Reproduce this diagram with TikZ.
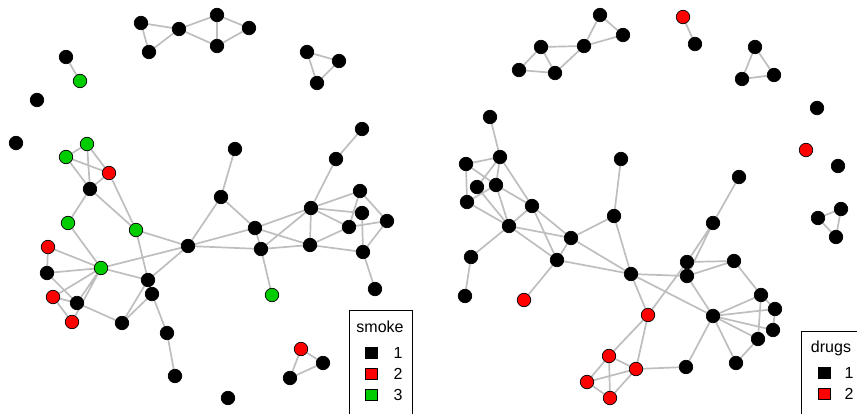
\documentclass[tikz,border=0pt]{standalone}
\usepackage{fontspec}
\setmainfont{Liberation Sans}
\usetikzlibrary{backgrounds}
\definecolor{verde}{RGB}{0,205,0}
\definecolor{gris}{RGB}{190,190,190}
\begin{document}
\begin{tikzpicture}[x=1pt, y=-1pt,
    nb/.style={circle, fill=black, draw=black, line width=0.7pt, minimum size=13.5pt, inner sep=0pt},
    nr/.style={nb, fill=red},
    ng/.style={nb, fill=verde},
    edge/.style={gris, line width=1.7pt},
    caja/.style={rectangle, draw=black, line width=0.7pt, minimum width=12pt, minimum height=11pt, inner sep=0pt},
    rotulo/.style={font=\fontsize{16}{19}\selectfont, inner sep=0pt}]
        \clip (0,0) rectangle (857,414);

        % Red smoke: grupos sueltos
        \node[nb] (s1) at (141,23) {};
        \node[nb] (s2) at (149,52) {};
        \node[nb] (s3) at (179,29) {};
        \node[nb] (s4) at (217,15) {};
        \node[nb] (s5) at (217,46) {};
        \node[nb] (s6) at (249,28) {};
        \node[nb] (s7) at (307,52) {};
        \node[nb] (s8) at (339,61) {};
        \node[nb] (s9) at (317,83) {};
        \node[nb] (s10) at (66,57) {};
        \node[ng] (s11) at (80,81) {};
        \node[nb] (s12) at (37,100) {};
        \node[nb] (s13) at (16,143) {};
        \node[nr] (s47) at (301,349) {};
        \node[nb] (s48) at (323,363) {};
        \node[nb] (s49) at (290,378) {};
        \node[nb] (s50) at (228,398) {};

        % Red smoke: componente grande
        \node[ng] (s14) at (87,144) {};
        \node[ng] (s15) at (66,157) {};
        \node[nr] (s16) at (109,173) {};
        \node[nb] (s17) at (90,189) {};
        \node[ng] (s18) at (68,223) {};
        \node[ng] (s19) at (136,230) {};
        \node[nb] (s20) at (188,246) {};
        \node[nr] (s21) at (48,247) {};
        \node[nb] (s22) at (47,273) {};
        \node[ng] (s23) at (101,268) {};
        \node[nb] (s24) at (148,280) {};
        \node[nb] (s25) at (152,294) {};
        \node[nr] (s26) at (53,297) {};
        \node[nb] (s27) at (77,303) {};
        \node[nr] (s28) at (72,322) {};
        \node[nb] (s29) at (122,323) {};
        \node[nb] (s30) at (167,333) {};
        \node[nb] (s31) at (175,376) {};
        \node[nb] (s32) at (235,149) {};
        \node[nb] (s33) at (221,197) {};
        \node[nb] (s34) at (255,228) {};
        \node[nb] (s35) at (261,249) {};
        \node[ng] (s36) at (272,295) {};
        \node[nb] (s37) at (311,208) {};
        \node[nb] (s38) at (336,159) {};
        \node[nb] (s39) at (362,129) {};
        \node[nb] (s40) at (310,245) {};
        \node[nb] (s41) at (360,191) {};
        \node[nb] (s42) at (362,213) {};
        \node[nb] (s43) at (349,227) {};
        \node[nb] (s44) at (387,221) {};
        \node[nb] (s45) at (363,252) {};
        \node[nb] (s46) at (375,289) {};

        % Red drugs: grupos sueltos
        \node[nb] (d1) at (600,15) {};
        \node[nb] (d2) at (623,35) {};
        \node[nb] (d3) at (584,46) {};
        \node[nb] (d4) at (541,47) {};
        \node[nb] (d5) at (519,70) {};
        \node[nb] (d6) at (555,73) {};
        \node[nr] (d7) at (683,17) {};
        \node[nb] (d8) at (695,44) {};
        \node[nb] (d9) at (755,47) {};
        \node[nb] (d10) at (742,79) {};
        \node[nb] (d11) at (774,75) {};
        \node[nb] (d12) at (817,108) {};
        \node[nr] (d13) at (806,150) {};
        \node[nb] (d14) at (838,166) {};
        \node[nb] (d15) at (818,218) {};
        \node[nb] (d16) at (841,209) {};
        \node[nb] (d17) at (836,237) {};

        % Red drugs: componente grande
        \node[nb] (d18) at (490,117) {};
        \node[nb] (d19) at (500,157) {};
        \node[nb] (d20) at (466,164) {};
        \node[nb] (d21) at (477,187) {};
        \node[nb] (d22) at (496,185) {};
        \node[nb] (d23) at (467,202) {};
        \node[nb] (d24) at (532,206) {};
        \node[nb] (d25) at (509,226) {};
        \node[nb] (d26) at (621,159) {};
        \node[nb] (d27) at (614,216) {};
        \node[nb] (d28) at (571,238) {};
        \node[nb] (d29) at (471,257) {};
        \node[nb] (d30) at (557,260) {};
        \node[nb] (d31) at (631,274) {};
        \node[nb] (d32) at (465,296) {};
        \node[nr] (d33) at (524,300) {};
        \node[nb] (d34) at (739,177) {};
        \node[nb] (d35) at (713,223) {};
        \node[nb] (d36) at (687,262) {};
        \node[nb] (d37) at (734,261) {};
        \node[nb] (d38) at (687,276) {};
        \node[nr] (d39) at (648,315) {};
        \node[nb] (d40) at (713,316) {};
        \node[nb] (d41) at (761,295) {};
        \node[nb] (d42) at (775,309) {};
        \node[nb] (d43) at (773,330) {};
        \node[nb] (d44) at (758,339) {};
        \node[nb] (d45) at (736,363) {};
        \node[nb] (d46) at (686,367) {};
        \node[nr] (d47) at (609,356) {};
        \node[nr] (d48) at (636,369) {};
        \node[nr] (d49) at (587,382) {};
        \node[nr] (d50) at (610,398) {};

        % Aristas
        \begin{scope}[on background layer]
        \draw[edge] (s1) -- (s3) (s1) -- (s2) (s2) -- (s3) (s3) -- (s4) (s3) -- (s5)
            (s4) -- (s5) (s4) -- (s6) (s5) -- (s6)
            (s7) -- (s8) (s8) -- (s9) (s9) -- (s7) (s10) -- (s11)
            (s47) -- (s48) (s48) -- (s49) (s49) -- (s47);
        \draw[edge] (s14) -- (s15) (s14) -- (s17) (s14) -- (s16) (s15) -- (s16) (s15) -- (s17)
            (s16) -- (s17) (s16) -- (s19) (s17) -- (s19) (s17) -- (s18)
            (s18) -- (s23) (s19) -- (s20) (s19) -- (s24) (s20) -- (s23) (s20) -- (s24)
            (s23) -- (s21) (s23) -- (s22) (s23) -- (s26) (s23) -- (s27) (s23) -- (s28)
            (s23) -- (s24) (s21) -- (s22) (s22) -- (s27) (s26) -- (s27) (s26) -- (s28)
            (s27) -- (s29) (s29) -- (s24) (s29) -- (s25) (s25) -- (s30) (s30) -- (s31);
        \draw[edge] (s20) -- (s33) (s20) -- (s34) (s20) -- (s35) (s32) -- (s33) (s33) -- (s34)
            (s34) -- (s35) (s34) -- (s37) (s34) -- (s40) (s35) -- (s37) (s35) -- (s40)
            (s35) -- (s36) (s37) -- (s38) (s38) -- (s39) (s37) -- (s40) (s37) -- (s41)
            (s37) -- (s42) (s37) -- (s43) (s40) -- (s43) (s40) -- (s45) (s41) -- (s43)
            (s41) -- (s44) (s42) -- (s45) (s43) -- (s44) (s44) -- (s45) (s45) -- (s46);
        \draw[edge] (d1) -- (d2) (d1) -- (d3) (d2) -- (d3) (d3) -- (d4) (d3) -- (d6)
            (d4) -- (d5) (d4) -- (d6) (d5) -- (d6) (d7) -- (d8)
            (d9) -- (d10) (d10) -- (d11) (d11) -- (d9)
            (d15) -- (d16) (d16) -- (d17) (d17) -- (d15);
        \draw[edge] (d18) -- (d19) (d19) -- (d20) (d19) -- (d21) (d19) -- (d22) (d19) -- (d24)
            (d20) -- (d23) (d20) -- (d22) (d21) -- (d25) (d22) -- (d23) (d22) -- (d24)
            (d22) -- (d25) (d23) -- (d25) (d24) -- (d25) (d24) -- (d28) (d24) -- (d30)
            (d25) -- (d28) (d25) -- (d29) (d25) -- (d30) (d28) -- (d30) (d28) -- (d27)
            (d28) -- (d31) (d27) -- (d26) (d27) -- (d31) (d30) -- (d33) (d30) -- (d31)
            (d29) -- (d32);
        \draw[edge] (d31) -- (d39) (d31) -- (d38) (d31) -- (d40) (d34) -- (d35) (d35) -- (d36)
            (d35) -- (d38) (d36) -- (d37) (d38) -- (d37) (d36) -- (d39) (d38) -- (d40)
            (d37) -- (d41) (d40) -- (d41) (d40) -- (d42) (d40) -- (d43) (d40) -- (d44)
            (d40) -- (d45) (d40) -- (d46) (d41) -- (d42) (d41) -- (d44) (d42) -- (d43)
            (d44) -- (d45) (d46) -- (d48)
            (d39) -- (d47) (d39) -- (d48) (d47) -- (d48) (d47) -- (d49) (d47) -- (d50)
            (d48) -- (d49) (d48) -- (d50) (d49) -- (d50);
        \end{scope}

        % Leyenda smoke
        \draw[line width=0.7pt] (349,310) rectangle (412,430);
        \node[rotulo] (tsmoke) at (380,327) {smoke};
        \node[caja, fill=black] (k1) at (371,353) {};
        \node[caja, fill=red] (k2) at (371,374) {};
        \node[caja, fill=verde] (k3) at (371,395) {};
        \node[rotulo] (l1) at (398,353) {1};
        \node[rotulo] (l2) at (398,374) {2};
        \node[rotulo] (l3) at (398,395) {3};

        % Leyenda drugs
        \draw[line width=0.7pt] (801,331) rectangle (880,430);
        \node[rotulo] (tdrugs) at (831,348) {drugs};
        \node[caja, fill=black] (m1) at (824,373) {};
        \node[caja, fill=red] (m2) at (824,394) {};
        \node[rotulo] (n1) at (849,373) {1};
        \node[rotulo] (n2) at (849,394) {2};
    \end{tikzpicture}
\end{document}
